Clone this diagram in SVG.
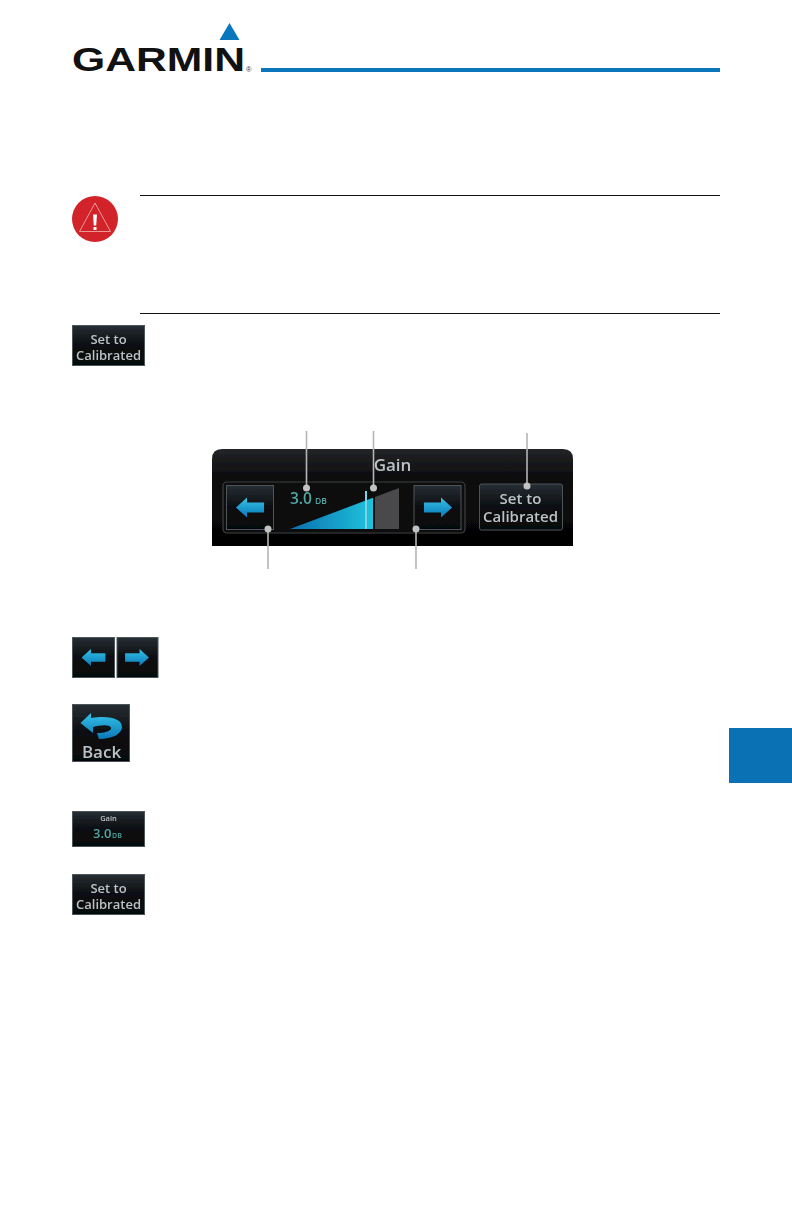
<svg xmlns="http://www.w3.org/2000/svg" width="792" height="1224" viewBox="0 0 792 1224">
<style>
.ui{font-family:"Open Sans","Liberation Sans",Arial,sans-serif;font-weight:600;fill:#bcc2c5;text-anchor:middle}
.val{font-family:"Open Sans","Liberation Sans",Arial,sans-serif;font-weight:600;fill:#4fa8a4}
.btn{fill:url(#btnG);stroke:#4e5458;stroke-width:1}
.lead{stroke:#b5b5b5;stroke-width:1.6;fill:none}
.dot{fill:#c2c2c2}
.soft{filter:url(#soft)}
</style>
<defs>
<filter id="soft" x="-5%" y="-5%" width="110%" height="110%"><feGaussianBlur stdDeviation="0.5"/></filter>
<linearGradient id="btnG" x1="0" y1="0" x2="0" y2="1"><stop offset="0" stop-color="#262e34"/><stop offset="0.45" stop-color="#0d1114"/><stop offset="1" stop-color="#050607"/></linearGradient>
<linearGradient id="panelG" x1="0" y1="0" x2="0" y2="1"><stop offset="0" stop-color="#232527"/><stop offset="0.3" stop-color="#0c0c0d"/><stop offset="1" stop-color="#040404"/></linearGradient>
<linearGradient id="rampG" x1="0" y1="0" x2="1" y2="0"><stop offset="0" stop-color="#0a6fb0"/><stop offset="1" stop-color="#1fc4dc"/></linearGradient>
<linearGradient id="arrowG" x1="0" y1="0" x2="0" y2="1"><stop offset="0" stop-color="#36c3e6"/><stop offset="1" stop-color="#0a78b8"/></linearGradient>
<path id="arrR" d="M-14-5H3V-10L14 0 3 10V5H-14Z" fill="url(#arrowG)"/>
<path id="arrL" d="M14-5H-3V-10L-14 0-3 10V5H14Z" fill="url(#arrowG)"/>
</defs>
<rect width="792" height="1224" fill="#fff"/>

<g id="logo">
<path d="M229.5 23L239.5 40H219.5Z" fill="#0a77bd"/>
<text x="72" y="71" font-family="'Liberation Sans',Arial,sans-serif" font-weight="700" font-size="34" textLength="173" lengthAdjust="spacingAndGlyphs" fill="#111">GARMIN</text>
<text x="246" y="72" font-family="'Liberation Sans',Arial,sans-serif" font-size="7.500" fill="#333">®</text>
</g>
<rect id="header-rule" x="261" y="68" width="459" height="4" fill="#0a77bd"/>
<rect id="side-tab" x="729" y="728" width="63" height="55" fill="#0a71b5"/>

<g id="warning">
<circle cx="95" cy="219" r="23" fill="#d2232a"/>
<path d="M95 203L110.500 231.500H79.500Z" fill="none" stroke="#f0b5b2" stroke-width="0.8"/>
<path d="M93 214.500H97L96.200 225.500H93.800Z" fill="#fff"/>
<rect x="93.500" y="227" width="3" height="3" fill="#fff"/>
<line x1="140" y1="195.500" x2="720" y2="195.500" stroke="#111" stroke-width="1"/>
<line x1="140" y1="313.500" x2="720" y2="313.500" stroke="#111" stroke-width="1"/>
</g>

<g id="icon-set-1" class="soft">
<rect class="btn" x="72.500" y="325.500" width="72" height="40"/>
<text class="ui" x="108.500" y="344" font-size="13">Set to</text>
<text class="ui" x="108.500" y="360" font-size="13">Calibrated</text>
</g>

<g id="gain-panel" class="soft">
<path d="M222 449H563Q573 449 573 459V546H212V459Q212 449 222 449Z" fill="url(#panelG)"/>
<text class="ui" x="392.500" y="470.500" font-size="17">Gain</text>
<rect x="223" y="482" width="242" height="51" rx="4" fill="#0b0c0d" stroke="#3e4244" stroke-width="1.200"/>
<rect class="btn" x="226.500" y="485.500" width="47" height="44" />
<use href="#arrL" x="250" y="507.500"/>
<rect class="btn" x="414" y="485.500" width="47" height="44"/>
<use href="#arrR" x="438" y="507.500"/>
<path d="M290 529L373 497.800V529Z" fill="url(#rampG)"/>
<path d="M375 497L399 488V529H375Z" fill="#4a4a4c"/>
<rect x="365" y="491" width="2" height="38" fill="#7fd2e6"/>
<text class="val" x="290" y="504" font-size="15.500">3.0</text>
<text class="val" x="315" y="503.500" font-size="8.500">DB</text>
<rect class="btn" x="479.500" y="484" width="83" height="46" rx="2"/>
<text class="ui" x="520.500" y="504" font-size="15">Set to</text>
<text class="ui" x="520.500" y="522" font-size="15">Calibrated</text>
</g>

<g id="connectors">
<line class="lead" x1="306.500" y1="431" x2="306.500" y2="488"/>
<circle class="dot" cx="306.500" cy="488" r="3.500"/>
<line class="lead" x1="373.500" y1="431" x2="373.500" y2="488"/>
<circle class="dot" cx="373.500" cy="488" r="3.500"/>
<line class="lead" x1="527" y1="433" x2="527" y2="486"/>
<circle class="dot" cx="527" cy="486" r="3.500"/>
<line class="lead" x1="268" y1="569" x2="268" y2="529"/>
<circle class="dot" cx="268" cy="529" r="3.500"/>
<line class="lead" x1="416" y1="569" x2="416" y2="529"/>
<circle class="dot" cx="416" cy="529" r="3.500"/>
</g>

<g id="icon-arrows" class="soft">
<rect class="btn" x="72.500" y="637.500" width="42" height="40"/>
<rect class="btn" x="117" y="637.500" width="41" height="40"/>
<use href="#arrL" x="93.500" y="657.500" transform="translate(93.500 657.500) scale(.85) translate(-93.500 -657.500)"/>
<use href="#arrR" x="137" y="657.500" transform="translate(137 657.500) scale(.85) translate(-137 -657.500)"/>
</g>

<g id="icon-back" class="soft">
<rect class="btn" x="72.500" y="704.500" width="57" height="57"/>
<path d="M80.500 723L91 713V718C110 715 122 719 122 727C122 734 112 739 99 739L97 733C105 733 112 731 111 727.500C109 724 100 725 93 727V733Z" fill="url(#arrowG)"/>
<text class="ui" x="101.500" y="758" font-size="17">Back</text>
</g>

<g id="icon-gain" class="soft">
<rect class="btn" x="72.500" y="811.500" width="72" height="35"/>
<text class="ui" x="108.500" y="821" font-size="7.500">Gain</text>
<text class="val" x="93" y="838" font-size="13">3.0</text>
<text class="val" x="112" y="838" font-size="7">DB</text>
</g>

<g id="icon-set-2" class="soft">
<rect class="btn" x="72.500" y="874.500" width="72" height="40"/>
<text class="ui" x="108.500" y="893" font-size="13">Set to</text>
<text class="ui" x="108.500" y="909" font-size="13">Calibrated</text>
</g>
</svg>
